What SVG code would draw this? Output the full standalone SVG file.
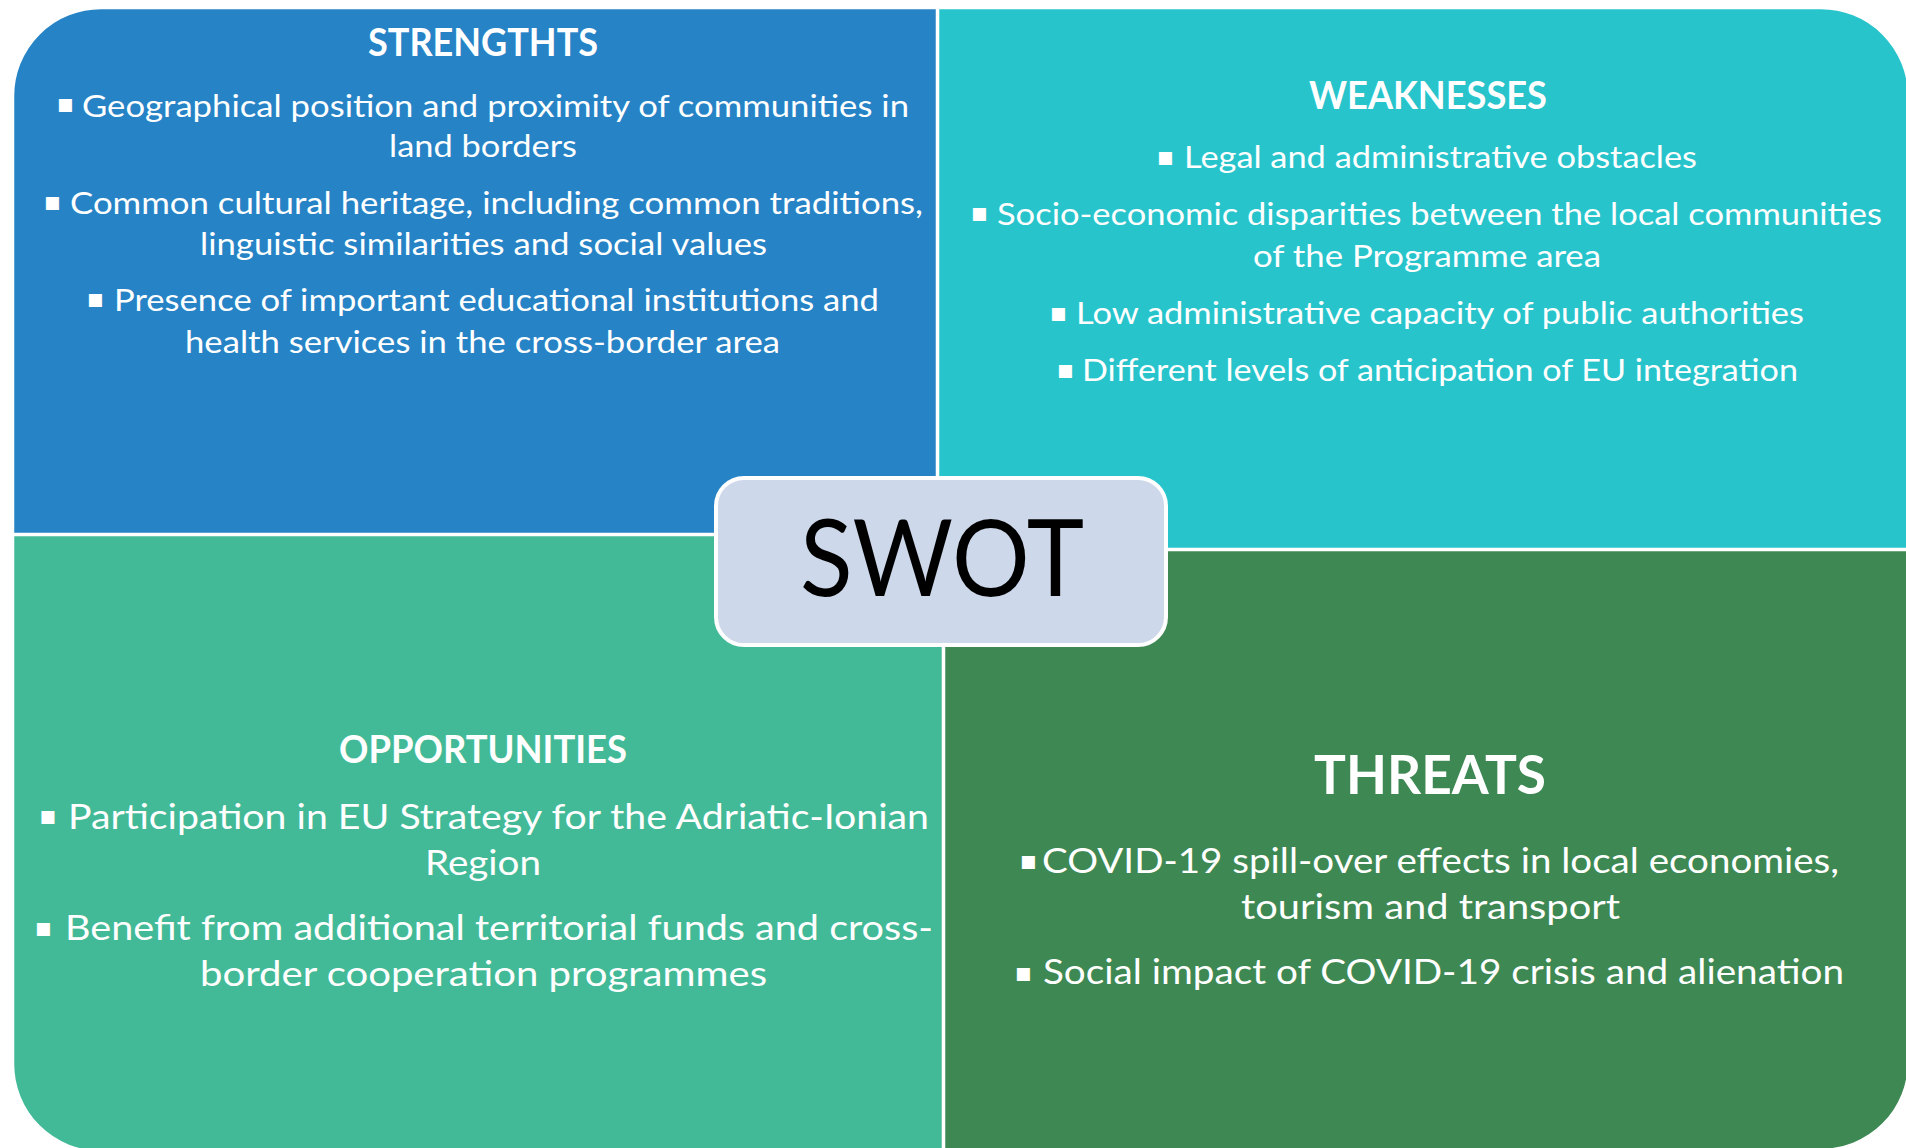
<svg xmlns="http://www.w3.org/2000/svg" width="1906" height="1148" viewBox="0 0 1906 1148">
<style>
.q{stroke:#ffffff;stroke-width:2.5}
.t{font-family:Lato,"Liberation Sans",sans-serif;fill:#ffffff}
.h{font-weight:700;font-size:38px}
.h2{font-weight:700;font-size:54px}
.b1{font-size:31px}
.b2{font-size:34.5px}
.bul{font-family:"DejaVu Sans",sans-serif;fill:#ffffff;font-size:26px;text-anchor:middle;dominant-baseline:central}
.swot{font-family:Lato,"Liberation Sans",sans-serif;font-size:106px;fill:#000000}
</style>
<rect x="0" y="0" width="1906" height="1148" fill="#ffffff"/>
<g id="strengths">
<path class="q" fill="#2683C6" d="M13,96 A88,88 0 0 1 101,8 L937,8 L937,534 L13,534 Z"/>
<text class="t h" x="368" y="56" textLength="230" lengthAdjust="spacingAndGlyphs">STRENGTHTS</text>
<text class="bul" x="65.5" y="102.5">▪</text>
<text class="t b1" x="82" y="117" textLength="827" lengthAdjust="spacingAndGlyphs">Geographical position and proximity of communities in</text>
<text class="t b1" x="389" y="157" textLength="188" lengthAdjust="spacingAndGlyphs">land borders</text>
<text class="bul" x="52.5" y="200.5">▪</text>
<text class="t b1" x="70" y="214" textLength="853" lengthAdjust="spacingAndGlyphs">Common cultural heritage, including common traditions,</text>
<text class="t b1" x="200" y="255" textLength="567" lengthAdjust="spacingAndGlyphs">linguistic similarities and social values</text>
<text class="bul" x="95.5" y="297.5">▪</text>
<text class="t b1" x="114" y="311" textLength="765" lengthAdjust="spacingAndGlyphs">Presence of important educational institutions and</text>
<text class="t b1" x="185" y="353" textLength="595" lengthAdjust="spacingAndGlyphs">health services in the cross-border area</text>
</g>
<g id="weaknesses">
<path class="q" fill="#28C4CC" d="M938,8 L1821,8 A88,88 0 0 1 1909,96 L1909,549 L938,549 Z"/>
<text class="t h" x="1309" y="109" textLength="238" lengthAdjust="spacingAndGlyphs">WEAKNESSES</text>
<text class="bul" x="1165.5" y="155.5">▪</text>
<text class="t b1" x="1184" y="168" textLength="513" lengthAdjust="spacingAndGlyphs">Legal and administrative obstacles</text>
<text class="bul" x="979.5" y="212">▪</text>
<text class="t b1" x="997" y="225" textLength="885" lengthAdjust="spacingAndGlyphs">Socio-economic disparities between the local communities</text>
<text class="t b1" x="1253" y="267" textLength="348" lengthAdjust="spacingAndGlyphs">of the Programme area</text>
<text class="bul" x="1058.5" y="312">▪</text>
<text class="t b1" x="1076" y="324" textLength="728" lengthAdjust="spacingAndGlyphs">Low administrative capacity of public authorities</text>
<text class="bul" x="1065.5" y="369">▪</text>
<text class="t b1" x="1082" y="381" textLength="716" lengthAdjust="spacingAndGlyphs">Different levels of anticipation of EU integration</text>
</g>
<g id="opportunities">
<path class="q" fill="#43BA97" d="M13,535 L943,535 L943,1152 L101,1152 A88,88 0 0 1 13,1064 Z"/>
<text class="t h" x="339" y="763" textLength="288" lengthAdjust="spacingAndGlyphs">OPPORTUNITIES</text>
<text class="bul" x="48" y="815">▪</text>
<text class="t b2" x="68" y="829" textLength="861" lengthAdjust="spacingAndGlyphs">Participation in EU Strategy for the Adriatic-Ionian</text>
<text class="t b2" x="425" y="875" textLength="116" lengthAdjust="spacingAndGlyphs">Region</text>
<text class="bul" x="43.5" y="926.5">▪</text>
<text class="t b2" x="65" y="940" textLength="868" lengthAdjust="spacingAndGlyphs">Benefit from additional territorial funds and cross-</text>
<text class="t b2" x="200" y="986" textLength="567" lengthAdjust="spacingAndGlyphs">border cooperation programmes</text>
</g>
<g id="threats">
<path class="q" fill="#3E8853" d="M944,550 L1909,550 L1909,1062 A88,88 0 0 1 1821,1150 L944,1150 Z"/>
<text class="t h2" x="1314" y="794" textLength="232" lengthAdjust="spacingAndGlyphs">THREATS</text>
<text class="bul" x="1028.5" y="860">▪</text>
<text class="t b2" x="1042" y="873" textLength="797" lengthAdjust="spacingAndGlyphs">COVID-19 spill-over effects in local economies,</text>
<text class="t b2" x="1241" y="919" textLength="379" lengthAdjust="spacingAndGlyphs">tourism and transport</text>
<text class="bul" x="1023.5" y="972">▪</text>
<text class="t b2" x="1043" y="984" textLength="801" lengthAdjust="spacingAndGlyphs">Social impact of COVID-19 crisis and alienation</text>
</g>
<g id="swot-center">
<rect x="716" y="478" width="450" height="167" rx="28" ry="28" fill="#CDD8EA" stroke="#ffffff" stroke-width="4"/>
<text class="swot" x="800" y="596" textLength="284" lengthAdjust="spacingAndGlyphs">SWOT</text>
</g>
<g id="connectors"/>
</svg>
